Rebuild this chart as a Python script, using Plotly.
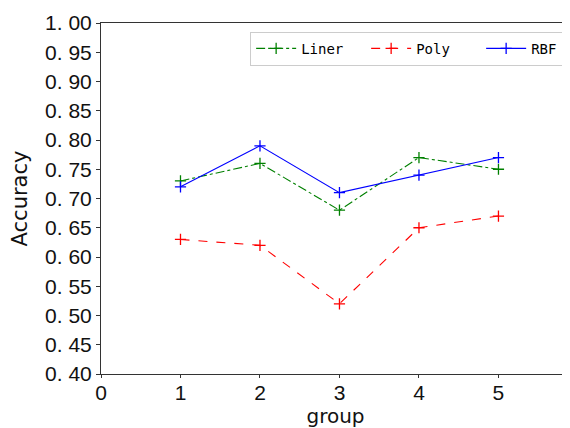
import plotly.graph_objects as go

groups = [1, 2, 3, 4, 5]
liner = [0.73, 0.76, 0.68, 0.77, 0.75]
poly = [0.63, 0.62, 0.52, 0.65, 0.67]
rbf = [0.72, 0.79, 0.71, 0.74, 0.77]

y_ticks = [0.40, 0.45, 0.50, 0.55, 0.60, 0.65, 0.70, 0.75, 0.80, 0.85, 0.90, 0.95, 1.00]
y_labels = ["%.2f" % v for v in y_ticks]
y_labels = [s.replace(".", ". ") for s in y_labels]
x_ticks = [0, 1, 2, 3, 4, 5]

fig = go.Figure()
series = [
    ("Liner", liner, "green", "dashdot"),
    ("Poly", poly, "#ff0000", "dash"),
    ("RBF", rbf, "#0000ff", "solid"),
]
for name, vals, color, dash in series:
    fig.add_trace(go.Scatter(
        x=groups, y=vals, name=name, mode="lines+markers",
        line=dict(color=color, width=1.1, dash=dash),
        marker=dict(symbol="cross-thin", size=8, line=dict(color=color, width=1.3), color=color),
    ))

# page body has an 8px margin, so the figure is sized and placed to compensate
fig.update_layout(
    width=562, height=420,
    margin=dict(l=93, r=0, t=15, b=54, autoexpand=False),
    paper_bgcolor="white", plot_bgcolor="white",
    showlegend=True,
    legend=dict(
        orientation="h", x=0.318, xanchor="left", y=0.975, yanchor="top",
        bordercolor="#cccccc", borderwidth=1, bgcolor="white",
        font=dict(family="DejaVu Sans Mono", size=14, color="black"),
        itemwidth=40, entrywidth=60, tracegroupgap=0,
    ),
    xaxis=dict(
        range=[0, 5.9], tickvals=x_ticks, ticktext=[str(v) for v in x_ticks],
        showgrid=False, zeroline=False, showline=True, linecolor="#333333", linewidth=1,
        mirror=True, ticks="outside", ticklen=3, tickcolor="#333333", automargin=False,
        ticklabelstandoff=-3,
        tickfont=dict(family="Liberation Sans", size=21, color="#111111"),
        title=dict(text="group", font=dict(family="DejaVu Sans", size=20, color="#111111"), standoff=6),
    ),
    yaxis=dict(
        range=[0.40, 1.00], tickvals=y_ticks, ticktext=y_labels,
        showgrid=False, zeroline=False, showline=True, linecolor="#333333", linewidth=1,
        ticks="outside", ticklen=4, tickcolor="#333333", automargin=False,
        tickfont=dict(family="Liberation Sans", size=21, color="#111111"),
        title=dict(text="Accuracy", font=dict(family="DejaVu Sans", size=21, color="#111111"), standoff=11),
    ),
)

fig.write_html("out.html")
